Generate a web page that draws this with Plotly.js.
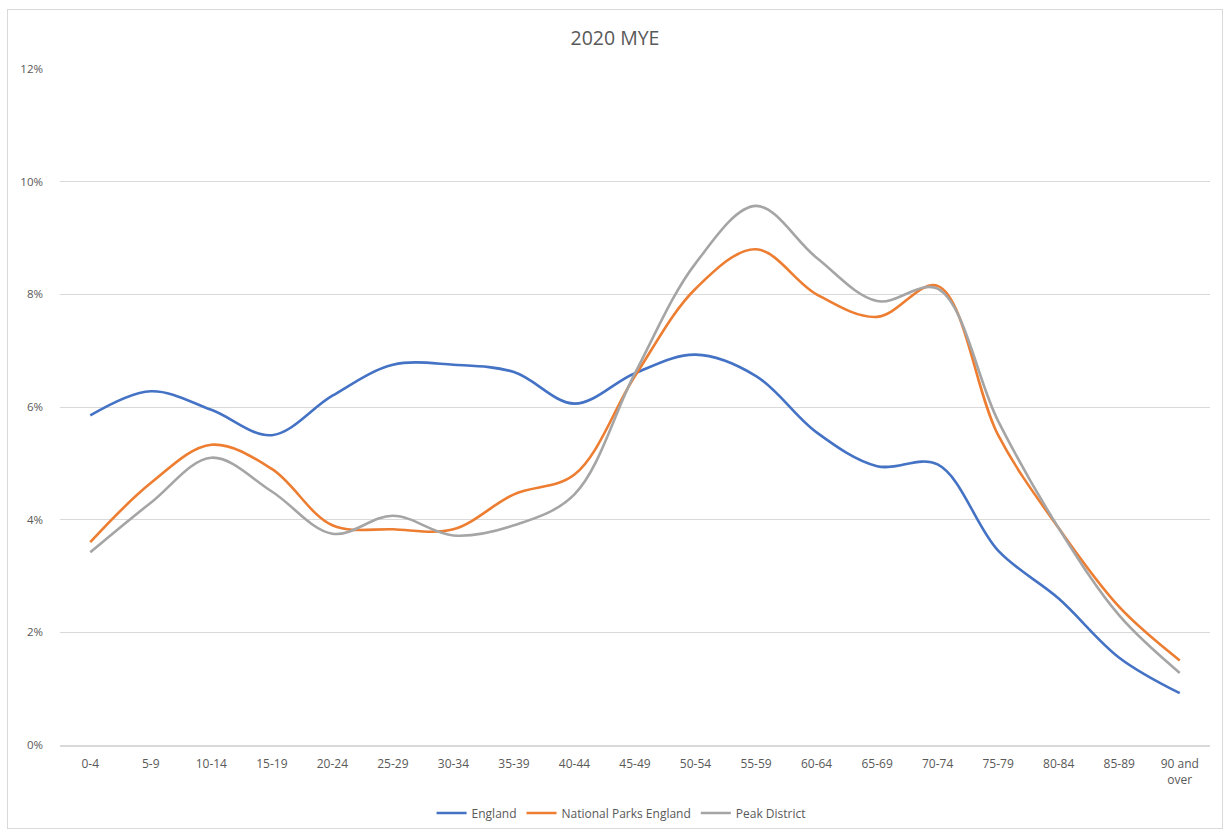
<!DOCTYPE html>
<html>
<head>
<meta charset="utf-8">
<script src="https://cdn.plot.ly/plotly-3.0.1.min.js"></script>
<style>
  html, body { margin: 0; padding: 0; background: #ffffff; }
  #chart { position: absolute; left: 7px; top: 9px; width: 1214px; height: 818px; border: 1px solid #d9d9d9; }
</style>
</head>
<body>
<div id="chart"></div>
<script>
const ageGroups = ["0-4","5-9","10-14","15-19","20-24","25-29","30-34","35-39","40-44","45-49","50-54","55-59","60-64","65-69","70-74","75-79","80-84","85-89","90 and<br>over"];
const england = [5.85, 6.28, 5.95, 5.50, 6.20, 6.75, 6.75, 6.62, 6.06, 6.60, 6.93, 6.55, 5.55, 4.95, 4.98, 3.45, 2.60, 1.55, 0.92];
const nationalParksEngland = [3.60, 4.65, 5.33, 4.90, 3.90, 3.83, 3.83, 4.45, 4.80, 6.55, 8.10, 8.80, 8.00, 7.60, 8.15, 5.50, 3.85, 2.45, 1.50];
const peakDistrict = [3.42, 4.30, 5.10, 4.50, 3.75, 4.07, 3.72, 3.90, 4.45, 6.60, 8.55, 9.57, 8.65, 7.88, 8.10, 5.75, 3.85, 2.30, 1.28];
const seriesNames = ["England", "National Parks England", "Peak District"];
const yTicks = [0, 2, 4, 6, 8, 10, 12];

const colors = ["#4472C4", "#ED7D31", "#A5A5A5"];
const data = [england, nationalParksEngland, peakDistrict].map((vals, i) => ({
  type: "scatter",
  mode: "lines",
  name: seriesNames[i],
  x: ageGroups,
  y: vals,
  line: { color: colors[i], width: 2.6, shape: "spline", smoothing: 1 },
  hoverinfo: "x+y+name"
}));

const layout = {
  width: 1214,
  height: 818,
  margin: { l: 52, r: 12, t: 58.5, b: 83 },
  paper_bgcolor: "#ffffff",
  plot_bgcolor: "#ffffff",
  font: { family: "Open Sans, Liberation Sans, sans-serif", color: "#595959", size: 11 },
  title: {
    text: "2020 MYE",
    font: { size: 19.5, color: "#595959", family: "Open Sans, Liberation Sans, sans-serif" },
    x: 0.5, xanchor: "center",
    y: 0.965, yanchor: "middle"
  },
  xaxis: {
    type: "category",
    range: [-0.5, ageGroups.length - 0.5],
    automargin: false,
    showgrid: false,
    zeroline: false,
    showline: true,
    linecolor: "#d9d9d9",
    linewidth: 1.5,
    ticks: "",
    tickfont: { size: 12, color: "#595959" },
    ticklabelstandoff: 7,
    fixedrange: true
  },
  yaxis: {
    range: [0, 12],
    automargin: false,
    tickvals: yTicks,
    ticktext: yTicks.map(v => v + "%"),
    showgrid: true,
    gridcolor: "#d9d9d9",
    gridwidth: 1,
    zeroline: false,
    showline: false,
    ticks: "",
    tickfont: { size: 11.5, color: "#595959" },
    ticklabelstandoff: 16,
    fixedrange: true
  },
  showlegend: true,
  legend: {
    orientation: "h",
    xref: "container", yref: "container",
    x: 0.505, xanchor: "center",
    y: 0.0183, yanchor: "middle",
    font: { size: 12, color: "#595959" },
    itemwidth: 30,
    traceorder: "normal"
  }
};

Plotly.newPlot("chart", data, layout, { displayModeBar: false });
</script>
</body>
</html>
